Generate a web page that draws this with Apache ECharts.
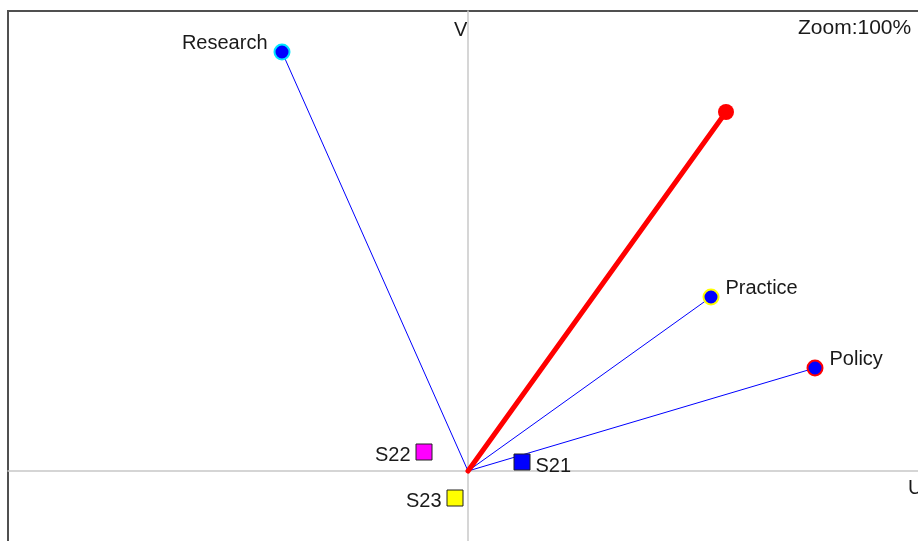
<!DOCTYPE html>
<html>
<head>
<meta charset="utf-8">
<script src="https://cdn.jsdelivr.net/npm/echarts@6/dist/echarts.min.js"></script>
<style>
html,body{margin:0;padding:0;background:#fff;}
#chart{width:918px;height:541px;}
</style>
</head>
<body>
<div id="chart"></div>
<script>
// Biplot coordinates (U, V)
const variableNames = ['Research', 'Practice', 'Policy'];
const variableU = [-1.86, 2.43, 3.47];
const variableV = [4.19, 1.74, 1.03];
const variableRing = ['#00e5ff', '#ffff00', '#ff0000'];

const axisVectorU = 2.58;
const axisVectorV = 3.59;

const sampleNames = ['S21', 'S22', 'S23'];
const sampleU = [0.54, -0.44, -0.13];
const sampleV = [0.09, 0.19, -0.27];
const sampleFill = ['#0000ff', '#ff00ff', '#ffff00'];

const FONT = 'Liberation Sans';
const TEXT = '#1a1a1a';

const chart = echarts.init(document.getElementById('chart'));

const series = [];

// thin blue rays from the origin to each variable
variableNames.forEach((name, i) => {
  series.push({
    type: 'line',
    data: [[0, 0], [variableU[i], variableV[i]]],
    showSymbol: false,
    silent: true,
    lineStyle: { color: '#0000ff', width: 1, opacity: 1 },
    z: 2
  });
});

// thick red direction vector
series.push({
  type: 'line',
  data: [[0, 0], [axisVectorU, axisVectorV]],
  symbol: 'none',
  silent: true,
  lineStyle: { color: '#ff0000', width: 5, cap: 'round', opacity: 1 },
  z: 3
});
series.push({
  type: 'scatter',
  data: [[axisVectorU, axisVectorV]],
  symbol: 'circle',
  symbolSize: 16,
  itemStyle: { color: '#ff0000', opacity: 1 },
  z: 4
});

// variable end points
const labelPos = { Research: 'left', Practice: 'right', Policy: 'right' };
series.push({
  type: 'scatter',
  data: variableNames.map((n, i) => ({
    name: n,
    value: [variableU[i], variableV[i]],
    itemStyle: { color: '#0000ff', borderColor: variableRing[i], borderWidth: 2, opacity: 1 },
    label: {
      position: labelPos[n],
      offset: [0, -9]
    }
  })),
  symbol: 'circle',
  symbolSize: 15,
  label: {
    show: true,
    formatter: p => p.name,
    fontFamily: FONT,
    fontSize: 20,
    color: TEXT,
    distance: 6
  },
  z: 5
});

// sample squares
const samplePos = { S21: 'right', S22: 'left', S23: 'left' };
const sampleOff = { S21: [0, 4], S22: [0, 3], S23: [0, 3] };
series.push({
  type: 'scatter',
  data: sampleNames.map((n, i) => ({
    name: n,
    value: [sampleU[i], sampleV[i]],
    itemStyle: { color: sampleFill[i] },
    label: { position: samplePos[n], offset: sampleOff[n] }
  })),
  symbol: 'rect',
  symbolSize: 16,
  itemStyle: { borderColor: '#222', borderWidth: 1, opacity: 1 },
  label: {
    show: true,
    formatter: p => p.name,
    fontFamily: FONT,
    fontSize: 20,
    color: TEXT,
    distance: 5
  },
  z: 5
});

const axisCommon = {
  type: 'value',
  axisLabel: { show: false },
  axisTick: { show: false },
  splitLine: { show: false },
  axisLine: { show: true, onZero: true, lineStyle: { color: '#c8c8c8', width: 1.5 } }
};

chart.setOption({
  animation: false,
  backgroundColor: '#ffffff',
  grid: {
    left: 8, top: 11, width: 920, height: 540,
    outerBoundsMode: 'none',
    containLabel: false,
    show: true, borderColor: '#505050', borderWidth: 2, backgroundColor: '#ffffff'
  },
  xAxis: Object.assign({}, axisCommon, { min: -4.6, max: 4.6 }),
  yAxis: Object.assign({}, axisCommon, { min: -0.8, max: 4.6 }),
  series: series,
  graphic: [
    { type: 'text', left: 454, top: 20,
      style: { text: 'V', font: '20px "Liberation Sans"', fill: TEXT } },
    { type: 'text', left: 798, top: 18,
      style: { text: 'Zoom:100%', font: '21px "Liberation Sans"', fill: TEXT, letterSpacing: 0.8 } },
    { type: 'text', left: 908, top: 478,
      style: { text: 'U', font: '20px "Liberation Sans"', fill: TEXT } }
  ]
});
</script>
</body>
</html>
